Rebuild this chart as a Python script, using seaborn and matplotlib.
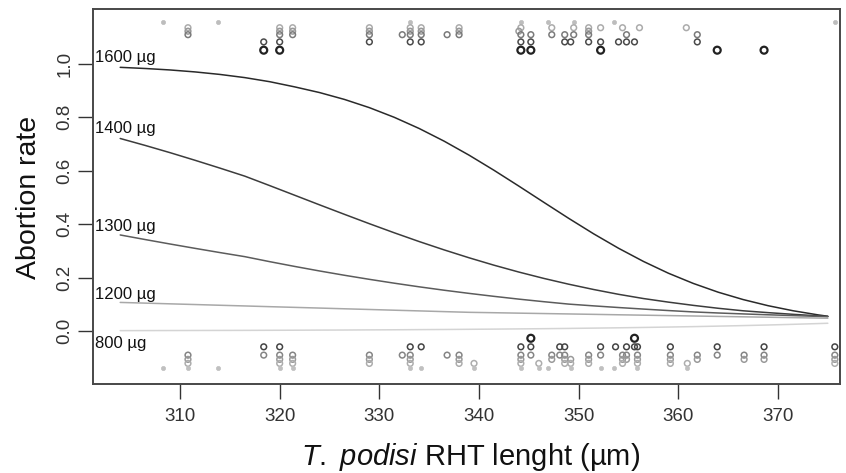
import numpy as np
import pandas as pd
import matplotlib
matplotlib.use("Agg")
import matplotlib.pyplot as plt
import seaborn as sns

# ---------------- data ----------------
CURVE_X = [304, 306.5, 309, 311.5, 314, 316.5, 319, 321.5, 324, 326.5, 329, 331.5, 334,
           336.5, 339, 341.5, 344, 346.5, 349, 351.5, 354, 356.5, 359, 361.5, 364,
           366.5, 369, 371.5, 374, 375]
P_1600 = [0.9859, 0.9816, 0.9761, 0.9688, 0.9594, 0.9475, 0.9322, 0.9129, 0.8916, 0.8659,
          0.8352, 0.7990, 0.7572, 0.7099, 0.6576, 0.6011, 0.5418, 0.4813, 0.4213, 0.3635,
          0.3095, 0.2602, 0.2162, 0.1780, 0.1452, 0.1177, 0.0948, 0.0759, 0.0605, 0.0552]
P_1400 = [0.7199, 0.6940, 0.6669, 0.6385, 0.6092, 0.5791, 0.5437, 0.5078, 0.4718, 0.4363,
          0.4013, 0.3673, 0.3345, 0.3034, 0.2739, 0.2462, 0.2205, 0.1968, 0.1751, 0.1553,
          0.1373, 0.1215, 0.1081, 0.0960, 0.0851, 0.0757, 0.0688, 0.0625, 0.0568, 0.0546]
P_1300 = [0.3592, 0.3421, 0.3254, 0.3092, 0.2934, 0.2781, 0.2594, 0.2416, 0.2246, 0.2085,
          0.1933, 0.1789, 0.1653, 0.1526, 0.1408, 0.1297, 0.1193, 0.1097, 0.1007, 0.0941,
          0.0879, 0.0821, 0.0766, 0.0715, 0.0675, 0.0640, 0.0608, 0.0578, 0.0548, 0.0537]
P_1200 = [0.1070, 0.1044, 0.1017, 0.0991, 0.0964, 0.0938, 0.0911, 0.0885, 0.0859, 0.0832,
          0.0806, 0.0779, 0.0753, 0.0726, 0.0700, 0.0685, 0.0669, 0.0654, 0.0639, 0.0624,
          0.0608, 0.0593, 0.0578, 0.0563, 0.0547, 0.0532, 0.0517, 0.0501, 0.0486, 0.0480]
P_800 = [0.0015, 0.0017, 0.0019, 0.0021, 0.0023, 0.0025, 0.0028, 0.0031, 0.0035, 0.0038,
         0.0043, 0.0047, 0.0053, 0.0058, 0.0065, 0.0072, 0.0080, 0.0088, 0.0098, 0.0109,
         0.0121, 0.0134, 0.0149, 0.0165, 0.0184, 0.0204, 0.0226, 0.0251, 0.0279, 0.0291]
DOSES = ["1600 µg", "1400 µg", "1300 µg", "1200 µg", "800 µg"]
LABEL_Y = [1.022, 0.757, 0.389, 0.137, -0.046]

# observed outcomes (jittered rows above 1 and below 0)
TOP_A_X = [308.3, 313.8, 333.1, 344.2, 346.9, 349.5, 353.5, 375.7]
TOP_B_X = [310.8, 320.0, 321.3, 329.0, 333.1, 334.2, 338.0, 344.2, 347.3, 349.5,
           351.0, 352.2, 354.4, 356.1, 360.8]
TOP_C_X = [310.8, 320.0, 321.3, 329.0, 333.1, 334.2, 338.0, 344.0, 351.0]
TOP_D_X = [310.8, 320.0, 321.3, 329.0, 332.3, 333.1, 334.2, 336.8, 338.0, 344.2, 345.2,
           347.3, 348.6, 349.5, 351.0, 354.8, 361.9]
TOP_E_X = [318.4, 320.0, 329.0, 333.1, 334.2, 344.2, 345.2, 348.6, 349.2, 351.0,
           352.2, 354.0, 354.8, 355.6, 361.9]
TOP_F_X = [318.4, 320.0, 344.2, 345.2, 352.2, 363.9, 368.6]

BOT_O_X = [345.2, 355.6]
BOT_P_X = [318.4, 320.0, 333.1, 334.2, 344.2, 345.2, 348.1, 348.6, 352.2, 353.7, 354.8,
           355.6, 355.9, 359.2, 363.9, 368.6, 375.7]
BOT_R_X = [310.8, 318.4, 320.0, 321.3, 329.0, 332.3, 333.1, 336.8, 338.0, 344.2, 345.2,
           347.3, 348.1, 348.6, 351.0, 352.2, 354.4, 354.8, 355.9, 359.2, 361.9, 363.9,
           366.6, 368.6, 375.7]
BOT_S_X = [310.8, 320.0, 321.3, 329.0, 333.1, 338.0, 344.2, 347.3, 348.6, 349.2, 351.0,
           354.4, 354.8, 355.9, 359.2, 361.9, 366.6, 368.6, 375.7]
BOT_T_X = [310.8, 320.0, 321.3, 329.0, 333.1, 338.0, 339.5, 344.2, 346.0, 348.6, 349.2,
           351.0, 354.4, 355.9, 359.2, 360.9, 375.7]
BOT_U_X = [308.3, 310.8, 313.8, 320.0, 321.3, 333.1, 334.2, 339.5, 344.2, 346.0, 346.9,
           349.2, 352.2, 353.5, 355.9, 360.9]

X_TICKS = [310, 320, 330, 340, 350, 360, 370]
Y_TICKS = [0.0, 0.2, 0.4, 0.6, 0.8, 1.0]
Y_TICK_LABELS = ["0.0", "0.2", "0.4", "0.6", "0.8", "1.0"]

# ---------------- style ----------------
sns.set_style("white")
plt.rcParams["font.family"] = ["Liberation Sans", "DejaVu Sans"]
plt.rcParams["mathtext.fontset"] = "custom"
plt.rcParams["mathtext.rm"] = "Liberation Sans"
plt.rcParams["mathtext.it"] = "Liberation Sans:italic"

fig = plt.figure(figsize=(8.46, 4.73), dpi=100)
ax = fig.add_axes([93 / 846, 1 - 384 / 473, 747 / 846, 375 / 473])

# curves
curve_df = pd.DataFrame({
    "x": CURVE_X * 5,
    "p": P_1600 + P_1400 + P_1300 + P_1200 + P_800,
    "dose": sum([[d] * len(CURVE_X) for d in DOSES], []),
})
curve_pal = {"1600 µg": "#2a2a2a", "1400 µg": "#3c3c3c", "1300 µg": "#5c5c5c",
             "1200 µg": "#a8a8a8", "800 µg": "#d4d4d4"}
sns.lineplot(data=curve_df, x="x", y="p", hue="dose", palette=curve_pal,
             estimator=None, sort=False, linewidth=1.1, legend=False, ax=ax)

# points
levels = [
    (TOP_A_X, 1.154, "#bdbdbd", "dot"),
    (TOP_B_X, 1.134, "#ababab", "ring"),
    (TOP_C_X, 1.121, "#999999", "ring"),
    (TOP_D_X, 1.108, "#7a7a7a", "ring"),
    (TOP_E_X, 1.081, "#4a4a4a", "ring"),
    (TOP_F_X, 1.050, "#222222", "bold"),
    (BOT_O_X, -0.027, "#222222", "bold"),
    (BOT_P_X, -0.059, "#444444", "ring"),
    (BOT_R_X, -0.090, "#858585", "ring"),
    (BOT_S_X, -0.106, "#9a9a9a", "ring"),
    (BOT_T_X, -0.121, "#adadad", "ring"),
    (BOT_U_X, -0.137, "#c0c0c0", "dot"),
]
for xs, yv, col, kind in levels:
    d = pd.DataFrame({"x": xs, "y": [yv] * len(xs)})
    if kind == "dot":
        sns.scatterplot(data=d, x="x", y="y", ax=ax, s=9, color=col,
                        edgecolor=col, linewidth=0.5, legend=False)
    elif kind == "ring":
        sns.scatterplot(data=d, x="x", y="y", ax=ax, s=17, facecolor="none",
                        edgecolor=col, linewidth=1.1, legend=False)
    else:
        sns.scatterplot(data=d, x="x", y="y", ax=ax, s=25, facecolor="none",
                        edgecolor=col, linewidth=1.6, legend=False)

# curve labels
for lab, yv in zip(DOSES, LABEL_Y):
    ax.text(301.47, yv, lab, ha="left", va="center", fontsize=12, color="#111111")

ax.set_xlim(301.27, 376.22)
ax.set_ylim(-0.198, 1.204)
ax.set_xticks(X_TICKS)
ax.set_xticklabels([str(t) for t in X_TICKS])
ax.set_yticks(Y_TICKS)
ax.set_yticklabels(Y_TICK_LABELS, rotation=90, va="center")

for sp in ax.spines.values():
    sp.set_visible(True)
    sp.set_color("#484848")
    sp.set_linewidth(1.4)

ax.tick_params(axis="both", direction="out", length=10.5, width=1.0, color="#333333",
               labelsize=13.5, labelcolor="#333333", bottom=True, left=True)
ax.tick_params(axis="x", pad=7)
ax.tick_params(axis="y", pad=3.5)

ax.set_xlabel(r"$\mathit{T.}$ $\mathit{podisi}$ RHT lenght (µm)", fontsize=21, color="#111111")
ax.set_ylabel("Abortion rate", fontsize=20.5, color="#111111")
ax.xaxis.set_label_coords(0.505, -0.152)
ax.yaxis.set_label_coords(-0.068, 0.497)

fig.savefig("out.png", dpi=100)
